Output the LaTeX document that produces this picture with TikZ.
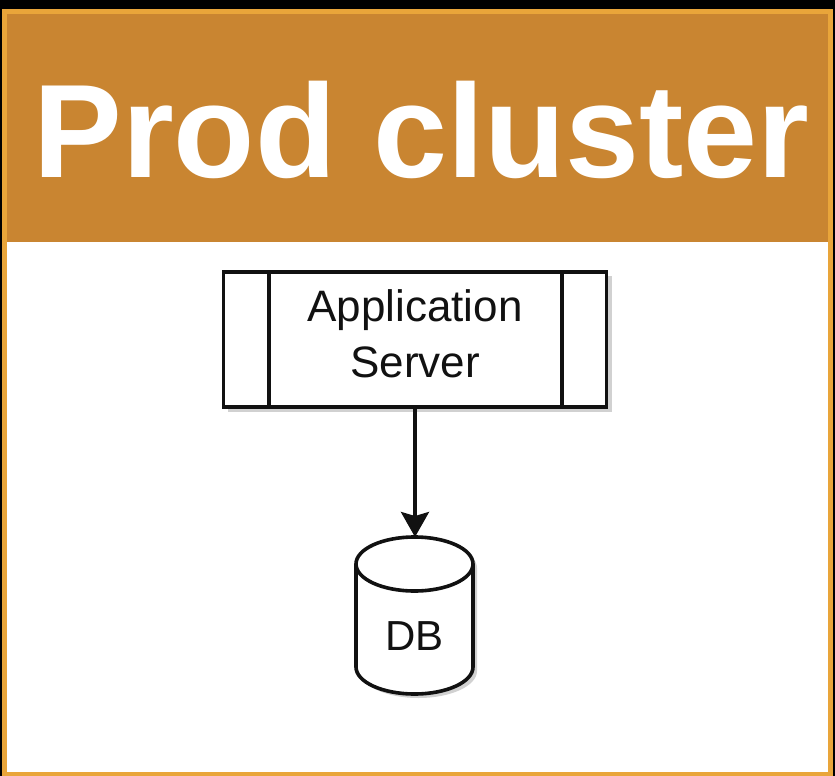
\documentclass[tikz,border=0pt]{standalone}
\usepackage{fontspec}
\setmainfont{Liberation Sans}
\usetikzlibrary{arrows.meta}
\definecolor{frameor}{HTML}{E9A53A}
\definecolor{headbr}{HTML}{C98531}
\definecolor{ink}{HTML}{111111}
\tikzset{
  shape line/.style={draw=ink, line width=3.6pt},
  shadowish/.style={fill=black, opacity=0.18},
  labeltext/.style={font=\fontsize{44}{56}\selectfont, text=ink, align=center},
}
\begin{document}
\begin{tikzpicture}[x=1pt,y=-1pt]
\useasboundingbox (0,0) rectangle (835,776);
% background and frame
\fill[black] (0,0) rectangle (835,776);
\fill[frameor] (2,9) rectangle (833,776);
\fill[headbr] (7,14) rectangle (828,242);
\fill[white] (7,242) rectangle (828,772);
% title
\node[anchor=base, text=white, font=\fontsize{133}{140}\selectfont\bfseries, inner sep=0pt] (title) at (421.5,177) {Prod cluster};
% application server shadow
\fill[shadowish] (228,276) rectangle (612,412);
% application server
\node[shape line, fill=white, minimum width=383pt, minimum height=135pt, inner sep=0pt] (app) at (415,339.5) {};
\draw[shape line] (269,272) -- (269,407);
\draw[shape line] (562,272) -- (562,407);
\node[labeltext] (applabel) at (415,334) {Application\\Server};
% database cylinder shadow
\fill[shadowish] (360,568) -- (360,671) arc[start angle=180, end angle=0, x radius=58.5, y radius=27] -- (477,568) arc[start angle=0, end angle=-180, x radius=58.5, y radius=27] -- cycle;
% database cylinder
\coordinate (dbtop) at (415,537);
\filldraw[shape line, fill=white] (356,564) -- (356,667) arc[start angle=180, end angle=0, x radius=58.5, y radius=27] -- (473,564) arc[start angle=0, end angle=-180, x radius=58.5, y radius=27] -- cycle;
\draw[shape line] (356,564) arc[start angle=180, end angle=0, x radius=58.5, y radius=27];
\node[labeltext, font=\fontsize{42}{50}\selectfont] (db) at (414.5,636) {DB};
% connector
\draw[shape line, -{Stealth[width=28pt,length=25pt,inset=4pt]}] (app.south) -- (dbtop);
\end{tikzpicture}
\end{document}
